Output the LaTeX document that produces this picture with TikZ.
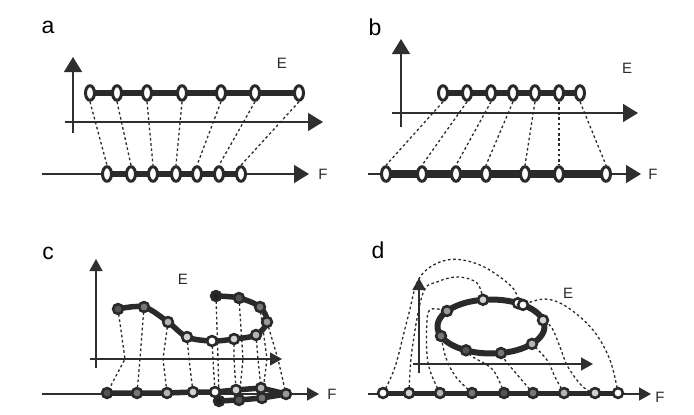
\documentclass[tikz,border=0pt]{standalone}
\usepackage{fontspec}
\setmainfont{Liberation Sans}
\usetikzlibrary{arrows.meta,shapes.geometric,backgrounds}
\definecolor{axc}{HTML}{2F2F2F}
\definecolor{chc}{HTML}{2A2A2A}
\definecolor{g1}{HTML}{555555}
\definecolor{g2}{HTML}{777777}
\definecolor{g3}{HTML}{9A9A9A}
\definecolor{g4}{HTML}{B4B4B4}
\definecolor{g5}{HTML}{D2D2D2}
\definecolor{g6}{HTML}{222222}
\begin{document}
\begin{tikzpicture}[x=1pt,y=-1pt,
  axis/.style={line width=1.5pt, draw=axc, -{Triangle[length=15pt,width=18pt]}},
  axisc/.style={line width=1.4pt, draw=axc, -{Triangle[length=12pt,width=13pt]}},
  chain/.style={line width=6.5pt, draw=chc, line join=round, line cap=round},
  chainc/.style={line width=5.5pt, draw=chc, line join=round, line cap=round},
  oval/.style={ellipse, draw=chc, line width=3pt, fill=white, minimum width=9pt, minimum height=14.5pt, inner sep=0pt},
  dot/.style={circle, draw=chc, line width=2.6pt, minimum size=9.8pt, inner sep=0pt},
  proj/.style={draw=chc, line width=1.3pt, dash pattern=on 2.6pt off 2.6pt},
  lbl/.style={font=\fontsize{23}{25}\selectfont, text=black},
  axl/.style={font=\fontsize{15}{17}\selectfont, text=chc}]
\useasboundingbox (0,0) rectangle (694,415);

% ---------------- panel a ----------------
\node[lbl] (la) at (48,27) {a};
\node[axl] (Ea) at (282,63) {E};
\node[axl] (Fa) at (323,174) {F};
\coordinate (aV0) at (73,133); \coordinate (aV1) at (73,57);
\coordinate (aH0) at (65,122); \coordinate (aH1) at (323,122);
\coordinate (aB0) at (42,174); \coordinate (aB1) at (309,174);
\foreach \x [count=\i] in {90,117,147,182,221,255,299}
  \node[oval] (at\i) at (\x,93) {};
\foreach \x [count=\i] in {107,131,153,176,197,219,241}
  \node[oval] (ab\i) at (\x,174) {};
\begin{scope}[on background layer]
  \draw[axis] (aV0) -- (aV1);
  \draw[axis] (aH0) -- (aH1);
  \draw[axis] (aB0) -- (aB1);
  \draw[chain] (at1.center) -- (at7.center);
  \draw[chain, line width=5.5pt] (ab1.center) -- (ab7.center);
  \foreach \i in {1,...,7} \draw[proj] (at\i.south) -- (ab\i.north);
\end{scope}

% ---------------- panel b ----------------
\node[lbl] (lb) at (375,27) {b};
\node[axl] (Eb) at (627,68) {E};
\node[axl] (Fb) at (653,174) {F};
\coordinate (bV0) at (401,127); \coordinate (bV1) at (401,39);
\coordinate (bH0) at (392,113); \coordinate (bH1) at (638,113);
\coordinate (bB0) at (368,174); \coordinate (bB1) at (641,174);
\foreach \x [count=\i] in {443,467,491,513,535,559,580}
  \node[oval] (bt\i) at (\x,93) {};
\foreach \x [count=\i] in {386,422,456,486,525,559,606}
  \node[oval] (bb\i) at (\x,174) {};
\begin{scope}[on background layer]
  \draw[axis] (bV0) -- (bV1);
  \draw[axis] (bH0) -- (bH1);
  \draw[axis] (bB0) -- (bB1);
  \draw[chain] (bt1.center) -- (bt7.center);
  \draw[chain, line width=7.5pt] (bb1.center) -- (bb7.center);
  \foreach \i in {1,...,7} \draw[proj] (bt\i.south) -- (bb\i.north);
\end{scope}

% ---------------- panel c ----------------
\node[lbl] (lc) at (48,253) {c};
\node[axl] (Ec) at (183,279) {E};
\node[axl] (Fc) at (332,394) {F};
\coordinate (cV0) at (96,368); \coordinate (cV1) at (96,259);
\coordinate (cH0) at (90,359); \coordinate (cH1) at (282,359);
\coordinate (cB0) at (42,394); \coordinate (cB1) at (319,394);
\foreach \x/\y/\c [count=\i] in {118/309/g1,144/307/g2,168/322/g4,187/337/g5,212/341/white,234/339/g5,256/335/g4,267/322/g3,260/307/g2,239/298/g1,216/296/g6}
  \node[dot, fill=\c] (ct\i) at (\x,\y) {};
\foreach \x/\y/\c [count=\i] in {107/393/g1,137/393/g2,167/393/g4,193/392/g5,215/392/white,236/390/g5,261/388/g4,286/394/g3,262/398/g2,239/400/g1,219/401/g6}
  \node[dot, fill=\c] (cb\i) at (\x,\y) {};
\begin{scope}[on background layer]
  \draw[axisc] (cV0) -- (cV1);
  \draw[axisc] (cH0) -- (cH1);
  \draw[axisc] (cB0) -- (cB1);
  \draw[chainc] plot[smooth, tension=0.55] coordinates {(ct1.center) (ct2.center) (ct3.center) (ct4.center) (ct5.center) (ct6.center) (ct7.center) (ct8.center) (ct9.center) (ct10.center) (ct11.center)};
  \draw[chainc] (cb1.center) -- (cb2.center) -- (cb3.center) -- (cb4.center) -- (cb5.center) -- (cb6.center) -- (cb7.center) -- (cb8.center) -- (cb9.center) -- (cb10.center) -- (cb11.center);
  \foreach \i/\m in {1/125,2/140,3/163,4/189,5/213,6/234,7/258,8/278,9/267,10/243,11/218}
    \draw[proj] (ct\i.center) -- (\m,359) -- (cb\i.center);
\end{scope}

% ---------------- panel d ----------------
\node[lbl] (ld) at (378,250) {d};
\node[axl] (Ed) at (568,293) {E};
\node[axl] (Fd) at (660,397) {F};
\coordinate (dV0) at (419,373); \coordinate (dV1) at (419,278);
\coordinate (dH0) at (413,364); \coordinate (dH1) at (593,364);
\coordinate (dB0) at (368,394); \coordinate (dB1) at (651,394);
\coordinate (dc) at (491,326.5);
\foreach \x/\y/\c [count=\i] in {483/299.8/g5,518/303.2/white,523/304.9/white,543/320.2/g5,532/343.9/g4,501/353/g2,466/350.3/g1,441/336/g2,447/311/g3}
  \node[dot, fill=\c] (de\i) at (\x,\y) {};
\foreach \x/\c [count=\i] in {383/white,409/g5,440/g4,472/g2,504/g1,533/g2,564/g4,595/g5,618/white}
  \node[dot, fill=\c] (db\i) at (\x,393) {};
\begin{scope}[on background layer]
  \draw[axisc] (dV0) -- (dV1);
  \draw[axisc] (dH0) -- (dH1);
  \draw[axisc] (dB0) -- (dB1);
  \draw[chainc, line width=6pt] (dc) ellipse [x radius=53.5pt, y radius=27pt];
  \draw[chainc, line width=5pt] (db1.center) -- (db9.center);
  \draw[proj] plot[smooth, tension=0.6] coordinates {(db1.center) (395,367) (408,317) (420,277) (447,260) (480,265) (512,287) (de2.center)};
  \draw[proj] plot[smooth, tension=0.6] coordinates {(db2.center) (412,350) (423,293) (437,282) (458,277) (477,283) (de1.center)};
  \draw[proj] plot[smooth, tension=0.6] coordinates {(db3.center) (428,363) (427,320) (432,309) (de9.center)};
  \draw[proj] plot[smooth, tension=0.6] coordinates {(db4.center) (456,377) (446,358) (de8.center)};
  \draw[proj] plot[smooth, tension=0.6] coordinates {(db5.center) (493,370) (473,357) (de7.center)};
  \draw[proj] plot[smooth, tension=0.6] coordinates {(db6.center) (520,378) (505,360) (de6.center)};
  \draw[proj] plot[smooth, tension=0.6] coordinates {(db7.center) (555,377) (547,360) (de5.center)};
  \draw[proj] plot[smooth, tension=0.6] coordinates {(db8.center) (583,387) (568,367) (560,347) (552,328) (de4.center)};
  \draw[proj] plot[smooth, tension=0.6] coordinates {(db9.center) (610,360) (593,330) (567,307) (545,299) (de3.center)};
\end{scope}
\end{tikzpicture}
\end{document}
